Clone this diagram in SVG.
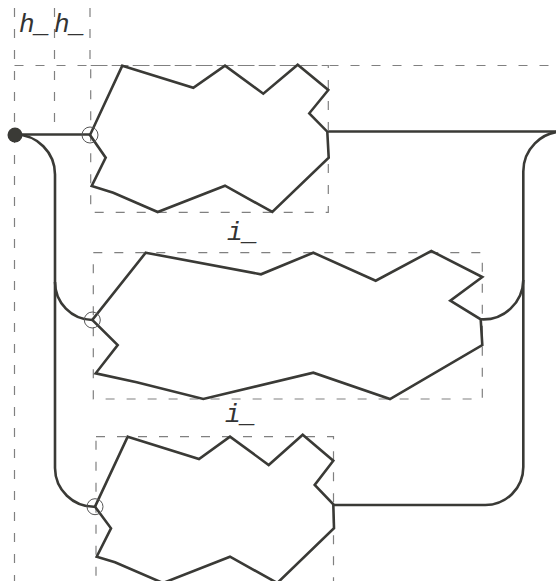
<svg xmlns="http://www.w3.org/2000/svg" width="556" height="581" viewBox="0 0 556 581">
<style>
.guide{fill:none;stroke:#808080;stroke-width:1.2;stroke-dasharray:9,12}
.conn{fill:none;stroke:#3a3a36;stroke-width:2.6}
.shape{fill:none;stroke:#3a3a36;stroke-width:2.6;stroke-linejoin:miter}
.port{fill:none;stroke:#555;stroke-width:1}
.lbl{font-family:"Liberation Mono",monospace;font-style:italic;font-size:26px;fill:#333}
</style>
<rect width="556" height="581" fill="#fff"/>
<g id="guides">
<line class="guide" x1="14.5" y1="8" x2="14.5" y2="581"/>
<line class="guide" x1="54.5" y1="8" x2="54.5" y2="135"/>
<line class="guide" x1="90" y1="8" x2="90" y2="65"/>
<line class="guide" x1="14.5" y1="65.5" x2="556" y2="65.5"/>
<text class="lbl" x="19" y="32">h_</text>
<text class="lbl" x="54" y="32">h_</text>
</g>
<g id="connectors">
<path class="conn" d="M15,134.5 H90"/>
<path class="conn" d="M15,134.5 A40,40 0 0 1 55,174.5 V282 A38,38 0 0 0 92.3,320"/>
<path class="conn" d="M55,282 V468 A39,39 0 0 0 95,506.7"/>
<path class="conn" d="M328,131.5 H563"/>
<path class="conn" d="M563,131.5 A40,40 0 0 0 523.3,171.5 V280 A40,40 0 0 1 481,319.3"/>
<path class="conn" d="M523.3,280 V467 A38,38 0 0 1 485,505 H333.3"/>
<circle cx="15" cy="135" r="7.5" fill="#3a3a36"/>
</g>
<g id="node1">
<rect class="guide" x="90.7" y="65.5" width="237.6" height="146.8"/>
<polygon class="shape" points="122.3,65.7 193.3,87.7 225,65.7 263.3,93.7 297.7,64.7 328.3,90 309.3,113.3 327.3,131.7 328.7,157.7 272.3,212 225,185.7 157.7,212 113.3,192.7 91.7,186 105.7,157.7 90,135"/>
<circle class="port" cx="90" cy="135" r="8"/>
</g>
<g id="node2">
<text class="lbl" x="227" y="240">i_</text>
<rect class="guide" x="93.3" y="252.7" width="389" height="146.3"/>
<polygon class="shape" points="145.7,252.7 261,274.3 313.3,252.7 375.7,280.7 431.3,251 482.3,277 450.3,300.7 480.7,319.3 482.3,345 390,399 313.3,372.7 203.3,399 136.7,382.3 95.7,373.3 117.7,345 92.3,320"/>
<circle class="port" cx="92.3" cy="320" r="8"/>
</g>
<g id="node3">
<text class="lbl" x="225" y="422">i_</text>
<rect class="guide" x="96" y="436.7" width="237.5" height="147"/>
<polygon class="shape" points="127.7,436.7 199,459 230,436.7 268.7,465 302.7,434.7 333.3,460.7 314.7,485 333.3,504.3 334,528.3 277.3,583 230,556.7 163,583 115,562.3 96.7,556.7 111,528.3 95,506.7"/>
<circle class="port" cx="95" cy="506.7" r="8"/>
</g>
</svg>
